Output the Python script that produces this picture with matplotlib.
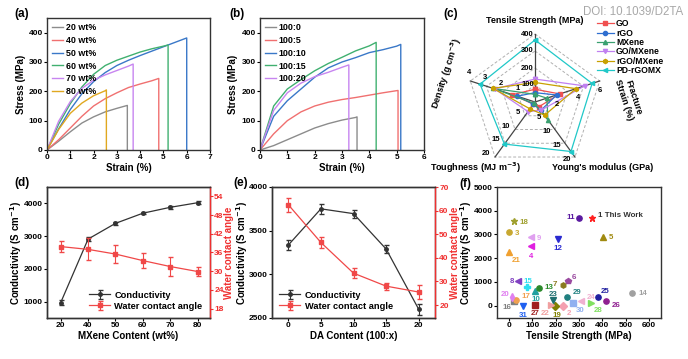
import numpy as np
import matplotlib
matplotlib.use("Agg")
import matplotlib.pyplot as plt

plt.rcParams['font.family'] = ['Liberation Sans', 'DejaVu Sans']
plt.rcParams['font.weight'] = 'bold'
plt.rcParams['axes.labelweight'] = 'bold'
plt.rcParams['mathtext.default'] = 'bf'

W, H = 688, 359

# ---------------- data ----------------
# (a) stress-strain, MXene content
a_labels = ['20 wt%', '40 wt%', '50 wt%', '60 wt%', '70 wt%', '80 wt%']
a_strain = [
    [0, 0.5, 1, 1.5, 2, 2.5, 3, 3.45],
    [0, 0.5, 1, 1.5, 2, 2.5, 3, 3.5, 4, 4.5, 4.8],
    [0, 0.5, 1, 1.5, 2, 2.5, 3, 3.5, 4, 4.5, 5, 5.5, 6.0],
    [0, 0.5, 1, 1.5, 2, 2.5, 3, 3.5, 4, 4.5, 5, 5.2],
    [0, 0.5, 1, 1.5, 2, 2.5, 3, 3.5, 3.7],
    [0, 0.5, 1, 1.5, 2, 2.5, 2.55],
]
a_stress = [
    [0, 30, 62, 92, 113, 130, 142, 152],
    [0, 35, 75, 115, 150, 175, 195, 213, 225, 236, 244],
    [0, 72, 138, 192, 233, 264, 288, 306, 322, 337, 352, 367, 382],
    [0, 88, 158, 215, 258, 288, 306, 320, 334, 345, 354, 358],
    [0, 98, 165, 210, 238, 256, 271, 286, 293],
    [0, 70, 125, 160, 185, 202, 205],
]
# (b) stress-strain, DA ratio
b_labels = ['100:0', '100:5', '100:10', '100:15', '100:20']
b_strain = [
    [0, 0.5, 1, 1.5, 2, 2.5, 3, 3.5, 3.55],
    [0, 0.5, 1, 1.5, 2, 2.5, 3, 3.5, 4, 4.5, 5.05],
    [0, 0.5, 1, 1.5, 2, 2.5, 3, 3.5, 4, 4.5, 5, 5.15],
    [0, 0.5, 1, 1.5, 2, 2.5, 3, 3.5, 4, 4.25],
    [0, 0.5, 1, 1.5, 2, 2.5, 3, 3.25],
]
b_stress = [
    [0, 15, 35, 55, 75, 90, 102, 111, 113],
    [0, 55, 100, 130, 150, 163, 172, 179, 187, 195, 203],
    [0, 115, 168, 208, 248, 280, 300, 315, 332, 342, 354, 360],
    [0, 150, 208, 240, 270, 295, 316, 338, 355, 367],
    [0, 135, 195, 228, 250, 265, 282, 290],
]
curve_colors = ['#8c8c8c', '#f07070', '#3a78c8', '#40b070', '#c785f0', '#e0a820']

# (c) radar
r_axes = ['Tensile Strength (MPa)', 'Fracture\nStrain (%)', "Young's modulus (GPa)",
          'Toughness (MJ m$^{-3}$)', 'Density (g cm$^{-3}$)']
r_max = [400, 6, 20, 20, 4]
r_ticks = [[100, 200, 300, 400], [2, 4, 6], [5, 10, 15, 20], [5, 10, 15, 20], [1, 2, 3, 4]]
r_names = ['GO', 'rGO', 'MXene', 'GO/MXene', 'rGO/MXene', 'PD-rGOMX']
r_values = [
    [75, 2.3, 1.8, 0.8, 1.4],
    [55, 2.0, 3.0, 0.8, 1.1],
    [45, 1.1, 6.5, 0.5, 2.6],
    [135, 4.6, 3.0, 3.5, 2.5],
    [115, 3.8, 4.8, 2.5, 2.6],
    [365, 5.3, 18.0, 15.3, 3.4],
]
r_colors = ['#f05050', '#2f6fd0', '#3aa070', '#c080f0', '#c8a000', '#20c8c8']
r_markers = ['s', 'o', '^', 'v', 'h', '<']

# (d) conductivity / contact angle vs MXene content
d_content = ['20', '40', '50', '60', '70', '80']
d_cond = [970, 2910, 3390, 3700, 3880, 4020]
d_cond_err = [80, 60, 40, 30, 50, 40]
d_angle = [37.9, 37.0, 35.5, 33.4, 31.5, 29.9]
d_angle_err = [1.8, 3.5, 3.0, 2.5, 3.0, 1.5]

# (e) conductivity / contact angle vs DA content
e_da = [0, 5, 10, 15, 20]
e_cond = [3335, 3750, 3695, 3290, 2600]
e_cond_err = [60, 55, 45, 50, 65]
e_angle = [62.5, 46.5, 33.5, 28.0, 25.5]
e_angle_err = [3.0, 2.5, 2.0, 1.5, 3.0]

# (f) comparison with literature
f_ids = list(range(1, 32))
f_ts = [357, 230, 3, 96, 403, 253, 231, 39, 96, 114, 300, 210, 131, 528, 77,
        21, 29, 24, 196, 15, 3, 180, 189, 310, 381, 417, 114, 353, 249, 274, 60]
f_cond = [3700, 0, 3100, 2500, 2880, 1060, 890, 1030, 2900, 620, 3700, 2820, 760, 530, 780,
          200, 250, 3580, 0, 350, 2260, 40, 250, 180, 350, 180, 40, 130, 360, 130, 0]
f_colors = ['#ff2020', '#f4a0b0', '#c8a830', '#e020e0', '#a08a10', '#9a4aa0', '#8a7a20',
            '#8040c0', '#e0a0f0', '#20a0a0', '#5a1aa0', '#2a2ad0', '#2a8a2a', '#a0a0a0',
            '#30e0f0', '#808080', '#f0a050', '#a0a030', '#808000', '#e080f0', '#f0a030',
            '#f0a0a0', '#207070', '#f0b0d0', '#2020a0', '#902090', '#a02020', '#80e060',
            '#208080', '#90b0f0', '#2060f0']
f_markers = ['*', 'D', 'o', '<', '^', 'p', 'h', '<', '<', '^', 'o', 'v', 'o', 'o', 'P',
             's', 'o', '*', 'D', 'd', '^', '>', 'v', '<', 'o', 'o', 's', '>', 'o', 's', 'v']
f_offsets = [(4, 2), (3, -6), (4, -1), (0, -7), (4, 0), (3, 2), (-4, 0), (-3, 0), (4, -1),
             (0, -6), (-3, 0), (0, -7), (4, 0), (4, 0), (1, 4), (-2, -5), (4, 2), (4, -1),
             (1.5, -7), (-2, 2), (2, -6), (-1, -6), (0, 4), (4, 3), (2, 4), (4, -3), (0, -6),
             (2, -6), (4, 3), (2, -6), (0, -7)]
f_ha = ['left', 'left', 'left', 'center', 'left', 'left', 'right', 'right', 'left',
        'center', 'right', 'center', 'left', 'left', 'center', 'right', 'left', 'left',
        'center', 'right', 'left', 'right', 'center', 'left', 'left', 'left', 'center',
        'left', 'left', 'left', 'center']


def box(l, t, r, b):
    return [l / W, 1 - b / H, (r - l) / W, (b - t) / H]


def style(ax, fs=6.0):
    for s in ax.spines.values():
        s.set_linewidth(1.0)
        s.set_color('#333333')
    ax.tick_params(direction='out', length=2.0, width=0.8, labelsize=fs, pad=1.0)
    for t in ax.get_xticklabels() + ax.get_yticklabels():
        t.set_fontweight('bold')


def ylab_x(px, left, right):
    # pixel column -> axes fraction
    return (px - left) / (right - left)


LAB = 7.0   # axis label size
HALF = 5.5  # half width of a rotated axis label, px

fig = plt.figure(figsize=(W / 100, H / 100), dpi=100)

leg_kw = dict(loc='upper left', frameon=False, fontsize=6.4, handlelength=1.2,
              labelspacing=0.42, borderpad=0.1, handletextpad=0.3)

# ---------------- (a) ----------------
ax = fig.add_axes(box(47, 18, 210, 150))
for xs, ys, c, lab in zip(a_strain, a_stress, curve_colors, a_labels):
    ax.plot(xs + [xs[-1]], ys + [0], color=c, lw=1.0, label=lab)
ax.set_xlim(0, 7)
ax.set_ylim(0, 450)
ax.set_xticks(range(0, 8))
ax.set_yticks([0, 100, 200, 300, 400])
ax.set_xlabel('Strain (%)', fontsize=LAB, labelpad=1)
ax.set_ylabel('Stress (MPa)', fontsize=LAB)
ax.yaxis.set_label_coords(ylab_x(20 + HALF, 47, 210), 0.5)
style(ax)
ax.legend(**leg_kw)
fig.text(14 / W, 1 - 14 / H, '(a)', fontsize=8.5, fontweight='bold', va='center')

# ---------------- (b) ----------------
ax = fig.add_axes(box(260, 18, 424, 150))
for xs, ys, c, lab in zip(b_strain, b_stress, curve_colors[:5], b_labels):
    ax.plot(xs + [xs[-1]], ys + [0], color=c, lw=1.0, label=lab)
ax.set_xlim(0, 6)
ax.set_ylim(0, 450)
ax.set_xticks(range(0, 7))
ax.set_yticks([0, 100, 200, 300, 400])
ax.set_xlabel('Strain (%)', fontsize=LAB, labelpad=1)
ax.set_ylabel('Stress (MPa)', fontsize=LAB)
ax.yaxis.set_label_coords(ylab_x(233 + HALF, 260, 424), 0.5)
style(ax)
ax.legend(**leg_kw)
fig.text(229 / W, 1 - 14 / H, '(b)', fontsize=8.5, fontweight='bold', va='center')

# ---------------- (c) radar ----------------
cx, cy, R = 535, 102, 68
half = 100
ax = fig.add_axes(box(cx - half, cy - half, cx + half, cy + half))
ax.set_xlim(-half / R, half / R)
ax.set_ylim(-half / R, half / R)
ax.axis('off')
ang = np.deg2rad(90 - 72 * np.arange(5))
ux, uy = np.cos(ang), np.sin(ang)
for lev in [0.25, 0.5, 0.75, 1.0]:
    ax.plot(np.append(ux, ux[0]) * lev, np.append(uy, uy[0]) * lev,
            ls=(0, (3, 2)), color='#b0b0b0', lw=0.7)
for i in range(5):
    ax.plot([0, ux[i]], [0, uy[i]], color='#444444', lw=0.9)
for vals, c, m, n in zip(r_values, r_colors, r_markers, r_names):
    f = np.array(vals) / np.array(r_max)
    px, py = f * ux, f * uy
    ax.plot(np.append(px, px[0]), np.append(py, py[0]), color=c, lw=0.9,
            marker=m, ms=3, label=n)
tick_off = [(-0.015, 0.0, 'right', 'center'), (0.0, -0.09, 'center', 'top'),
            (-0.06, -0.03, 'right', 'center'), (-0.07, 0.05, 'right', 'center'),
            (-0.02, 0.07, 'center', 'bottom')]
for i in range(5):
    dx, dy, ha, va = tick_off[i]
    for t in r_ticks[i]:
        f = t / r_max[i]
        ax.text(f * ux[i] + dx, f * uy[i] + dy, str(t), fontsize=5.5,
                fontweight='bold', ha=ha, va=va)
ax.text(0, 1.13, r_axes[0], fontsize=6.5, fontweight='bold', ha='center', va='bottom')
ax.text(1.38, 0.05, r_axes[1], fontsize=6.5, fontweight='bold', ha='center',
        va='center', rotation=-72)
ax.text(1.0, -0.97, r_axes[2], fontsize=6.5, fontweight='bold', ha='center', va='center')
ax.text(-0.87, -0.97, r_axes[3], fontsize=6.5, fontweight='bold', ha='center', va='center')
ax.text(-1.3, 0.42, r_axes[4], fontsize=6.5, fontweight='bold', ha='center',
        va='center', rotation=72)
fig.legend(*ax.get_legend_handles_labels(), loc='upper left',
           bbox_to_anchor=(592 / W, 1 - 14 / H), frameon=False, fontsize=6.2,
           handlelength=1.9, labelspacing=0.05, borderpad=0.1, handletextpad=0.3)
fig.text(443 / W, 1 - 14 / H, '(c)', fontsize=8.5, fontweight='bold', va='center')
fig.text(583 / W, 1 - 12 / H, 'DOI: 10.1039/D2TA', fontsize=8.3, color='#a8a8a8',
         fontweight='normal', va='center')

# ---------------- (d) ----------------
ax = fig.add_axes(box(47, 187, 210, 318))
xd = np.arange(len(d_content))
l1 = ax.errorbar(xd, d_cond, yerr=d_cond_err, color='#333333', marker='o', ms=2.5,
                 lw=0.9, capsize=1.8, elinewidth=0.8)
ax.set_xlim(-0.5, 5.45)
ax.set_ylim(500, 4500)
ax.set_xticks(xd)
ax.set_xticklabels(d_content)
ax.set_yticks([1000, 2000, 3000, 4000])
ax.set_xlabel('MXene Content (wt%)', fontsize=LAB, labelpad=1)
ax.set_ylabel('Conductivity (S cm$^{-1}$)', fontsize=LAB)
ax.yaxis.set_label_coords(ylab_x(19 + HALF, 47, 210), 0.5)
ax2 = ax.twinx()
l2 = ax2.errorbar(xd, d_angle, yerr=d_angle_err, color='#f04848', marker='s', ms=2.5,
                  lw=0.9, capsize=1.8, elinewidth=0.8)
ax2.set_ylim(15, 57)
ax2.set_yticks([18, 24, 30, 36, 42, 48, 54])
ax2.set_ylabel('Water contact angle', fontsize=LAB, color='#f03030')
ax2.yaxis.set_label_coords(ylab_x(224, 47, 210), 0.5)
style(ax)
style(ax2)
ax2.spines['right'].set_color('#f03030')
ax2.tick_params(axis='y', colors='#f03030')
ax.legend([l1, l2], ['Conductivity', 'Water contact angle'], loc='lower right',
          frameon=False, fontsize=6.7, handlelength=2.2, labelspacing=0.2,
          borderpad=0.3, handletextpad=0.5)
fig.text(14 / W, 1 - 183 / H, '(d)', fontsize=8.5, fontweight='bold', va='center')

# ---------------- (e) ----------------
ax = fig.add_axes(box(272, 187, 435, 318))
l1 = ax.errorbar(e_da, e_cond, yerr=e_cond_err, color='#333333', marker='o', ms=2.5,
                 lw=0.9, capsize=1.8, elinewidth=0.8)
ax.set_xlim(-2.5, 22.5)
ax.set_ylim(2500, 4000)
ax.set_xticks(e_da)
ax.set_yticks([2500, 3000, 3500, 4000])
ax.set_xlabel('DA Content (100:x)', fontsize=LAB, labelpad=1)
ax.set_ylabel('Conductivity (S cm$^{-1}$)', fontsize=LAB)
ax.yaxis.set_label_coords(ylab_x(250, 272, 435), 0.5)
ax2 = ax.twinx()
l2 = ax2.errorbar(e_da, e_angle, yerr=e_angle_err, color='#f04848', marker='s', ms=2.5,
                  lw=0.9, capsize=1.8, elinewidth=0.8)
ax2.set_ylim(14.5, 70)
ax2.set_yticks([20, 30, 40, 50, 60, 70])
ax2.set_ylabel('Water contact angle', fontsize=LAB, color='#f03030')
ax2.yaxis.set_label_coords(ylab_x(449.5, 272, 435), 0.5)
style(ax)
style(ax2)
ax2.spines['right'].set_color('#f03030')
ax2.tick_params(axis='y', colors='#f03030')
ax.legend([l1, l2], ['Conductivity', 'Water contact angle'], loc='lower left',
          frameon=False, fontsize=6.7, handlelength=2.2, labelspacing=0.2,
          borderpad=0.3, handletextpad=0.5)
fig.text(233 / W, 1 - 183 / H, '(e)', fontsize=8.5, fontweight='bold', va='center')

# ---------------- (f) ----------------
ax = fig.add_axes(box(497, 187, 661, 318))
for i, x, y, c, m, off, ha in zip(f_ids, f_ts, f_cond, f_colors, f_markers, f_offsets, f_ha):
    ax.plot(x, y, marker=m, color=c, ms=5 if m == '*' else 3.8, ls='none')
    lab = '1 This Work' if i == 1 else str(i)
    ax.annotate(lab, (x, y), xytext=off, textcoords='offset points', fontsize=5.7,
                color='#333333' if i == 1 else c, ha=ha, va='center', fontweight='bold')
ax.set_xlim(-50, 650)
ax.set_ylim(-520, 5000)
ax.set_xticks(range(0, 700, 100))
ax.set_yticks(range(0, 6000, 1000))
ax.set_xlabel('Tensile Strength (MPa)', fontsize=LAB, labelpad=1)
ax.set_ylabel('Conductivity (S cm$^{-1}$)', fontsize=LAB)
ax.yaxis.set_label_coords(ylab_x(474, 497, 661), 0.5)
style(ax)
fig.text(459 / W, 1 - 184 / H, '(f)', fontsize=8.5, fontweight='bold', va='center')

fig.savefig('out.png', dpi=100)
